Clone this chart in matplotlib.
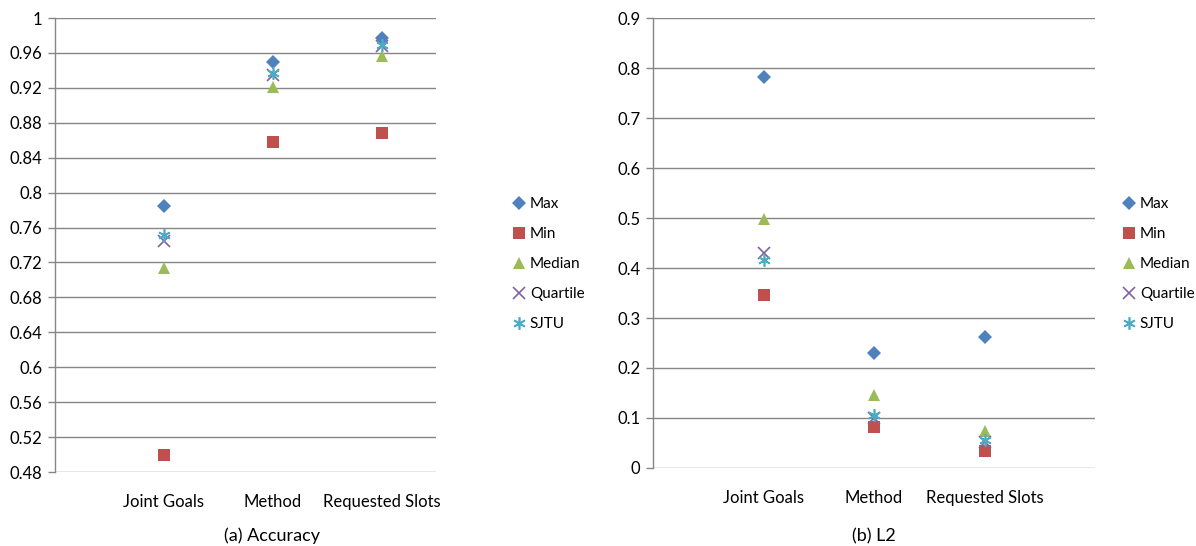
import matplotlib
matplotlib.use("Agg")
import matplotlib.pyplot as plt

plt.rcParams['font.family'] = ['Lato', 'DejaVu Sans']

categories = ["Joint Goals", "Method", "Requested Slots"]
series_names = ["Max", "Min", "Median", "Quartile", "SJTU"]

acc_max = [0.785, 0.950, 0.977]
acc_min = [0.500, 0.858, 0.868]
acc_median = [0.714, 0.921, 0.956]
acc_quartile = [0.745, 0.935, 0.968]
acc_sjtu = [0.751, 0.937, 0.969]

l2_max = [0.782, 0.230, 0.263]
l2_min = [0.346, 0.082, 0.034]
l2_median = [0.498, 0.146, 0.073]
l2_quartile = [0.431, 0.100, 0.052]
l2_sjtu = [0.416, 0.105, 0.056]

acc_ticks = [0.48, 0.52, 0.56, 0.6, 0.64, 0.68, 0.72, 0.76, 0.8, 0.84, 0.88, 0.92, 0.96, 1]
l2_ticks = [0, 0.1, 0.2, 0.3, 0.4, 0.5, 0.6, 0.7, 0.8, 0.9]

styles = {
    "Max": dict(marker='D', color='#4F81BD', ms=7.5, mew=0),
    "Min": dict(marker='s', color='#C0504D', ms=8, mew=0),
    "Median": dict(marker='^', color='#9BBB59', ms=9, mew=0),
    "Quartile": dict(marker='x', color='#8064A2', ms=8, mew=1.2),
    "SJTU": dict(marker=(6, 2, 0), color='#4BACC6', ms=9, mew=1.2),
}

fig = plt.figure(figsize=(11.96, 5.46), dpi=100)
ax1 = fig.add_axes([0.046, 0.1355, 0.3186, 0.8315])
ax2 = fig.add_axes([0.546, 0.1429, 0.3696, 0.824])

def draw(ax, data, ticks, xmax, labels_fmt, legend_anchor, caption, caption_x):
    xs = [1, 2, 3]
    handles = []
    for name, vals in zip(series_names, data):
        st = styles[name]
        h, = ax.plot(xs, vals, linestyle='none', marker=st['marker'], color=st['color'],
                     markersize=st['ms'], markeredgewidth=st['mew'], label=name, zorder=3)
        handles.append(h)
    ax.set_xlim(0, xmax)
    ax.set_ylim(ticks[0], ticks[-1])
    ax.set_yticks(ticks)
    ax.set_yticklabels([labels_fmt(t) for t in ticks], fontsize=12, color='#000000')
    ax.set_xticks(xs)
    ax.set_xticklabels(categories, fontsize=12)
    ax.tick_params(axis='x', length=0, pad=16)
    ax.tick_params(axis='y', length=5, color='#868686', width=1, pad=4)
    ax.grid(axis='y', color='#868686', linewidth=1)
    ax.set_axisbelow(True)
    for s in ['top', 'right', 'bottom']:
        ax.spines[s].set_visible(False)
    ax.spines['left'].set_color('#868686')
    ax.spines['left'].set_linewidth(1)
    fig.legend(handles=handles, loc='center left', bbox_to_anchor=legend_anchor,
               frameon=False, fontsize=11, handlelength=0.8, handletextpad=0.3,
               labelspacing=1.05, borderaxespad=0, borderpad=0)
    fig.text(caption_x, 0.003, caption, ha='center', va='bottom', fontsize=13)

def fmt_acc(t):
    if t == 1:
        return "1"
    s = "%.2f" % t
    return s[:-1] if s.endswith('0') else s

def fmt_l2(t):
    return "0" if t == 0 else "%.1f" % t

draw(ax1, [acc_max, acc_min, acc_median, acc_quartile, acc_sjtu], acc_ticks, 3.5,
     fmt_acc, (0.429, 0.5165), "(a) Accuracy", 0.2274)
draw(ax2, [l2_max, l2_min, l2_median, l2_quartile, l2_sjtu], l2_ticks, 4.0,
     fmt_l2, (0.939, 0.5165), "(b) L2", 0.7308)

fig.savefig("out.png", dpi=100)
